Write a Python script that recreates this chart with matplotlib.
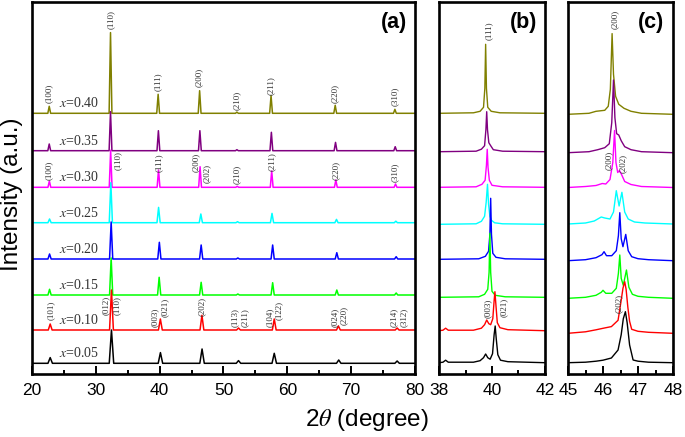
"""
Patrones XRD apilados: (a) barrido completo 20-80, (b) detalle del pico (111), (c) detalle del pico (200)
"""

import matplotlib
matplotlib.use("Agg")
import matplotlib.pyplot as plt
import numpy as np
from matplotlib.ticker import MultipleLocator

plt.rcParams["font.family"] = "Liberation Sans"
plt.rcParams["mathtext.fontset"] = "stix"

# Composiciones (de abajo hacia arriba) y colores
SAMPLES = ["0.05", "0.10", "0.15", "0.20", "0.25", "0.30", "0.35", "0.40"]
COLORS = ["black", "#FF0000", "#00FF00", "#0000FF", "#00FFFF", "#FF00FF", "#800080", "#808000"]

# ---- Panel (a): posicion (2theta) y altura de cada pico ----
pos_a_005 = [22.85, 32.45, 40.12, 46.64, 52.35, 57.95, 68.05, 77.2]
h_a_005 = [5.7, 33.3, 10.7, 14.3, 2.7, 10, 3.3, 2.3]
pos_a_010 = [22.85, 32.45, 40.11, 46.62, 52.35, 57.95, 68.0, 77.2]
h_a_010 = [6, 40, 11, 14.7, 2, 11, 4, 2]
pos_a_015 = [22.75, 32.4, 39.92, 46.5, 52.25, 57.7, 67.75, 77.05]
h_a_015 = [5.7, 37, 17.7, 12.7, 1, 12.3, 5, 2]
pos_a_020 = [22.75, 32.4, 39.95, 46.5, 52.25, 57.7, 67.75, 77.05]
h_a_020 = [5, 37, 16.7, 14, 1, 14, 6.3, 2.3]
pos_a_025 = [22.75, 32.35, 39.83, 46.45, 52.2, 57.6, 67.7, 77.0]
h_a_025 = [3.7, 40, 15.3, 8.7, 1, 9.3, 3.3, 1.5]
pos_a_030 = [22.72, 32.32, 39.82, 46.33, 52.15, 57.55, 67.6, 76.95]
h_a_030 = [6.3, 37, 17.3, 20.6, 1, 16.3, 7.3, 3.3]
pos_a_035 = [22.7, 32.3, 39.8, 46.3, 52.1, 57.5, 67.55, 76.9]
h_a_035 = [6.7, 39, 20, 20, 1, 18.4, 8.3, 4]
pos_a_040 = [22.7, 32.3, 39.76, 46.26, 52.1, 57.45, 67.5, 76.85]
h_a_040 = [7, 80.7, 19, 22.6, 1.2, 17.7, 8, 4]
hw_a = [0.35, 0.3, 0.25, 0.25, 0.25, 0.22, 0.22, 0.22]

# ---- Panel (b): region 38-42 ----
tt_b_005 = [38.0, 38.15, 38.25, 38.35, 39.3, 39.55, 39.68, 39.76, 39.84, 39.93, 40.02, 40.08, 40.12, 40.16, 40.22, 40.32, 40.6, 42.0]
in_b_005 = [0, 0.5, 2.5, 0.5, 0.5, 2, 5, 8.7, 5, 3.5, 9, 28, 36.7, 24, 8, 2.5, 1, 0]
tt_b_010 = [38.0, 38.15, 38.25, 38.35, 39.3, 39.6, 39.72, 39.8, 39.88, 39.95, 40.03, 40.08, 40.11, 40.15, 40.2, 40.3, 40.6, 42.0]
in_b_010 = [0, 0.5, 2.5, 0.5, 0.5, 2.5, 6, 10.7, 7, 6, 12, 30, 39, 25, 8, 3, 1, 0]
tt_b_015 = [38.0, 39.5, 39.72, 39.84, 39.89, 39.92, 39.95, 40.0, 40.12, 40.5, 42.0]
in_b_015 = [0, 0.5, 3, 8, 25, 64, 25, 6, 2, 0.5, 0]
tt_b_020 = [38.0, 39.5, 39.75, 39.87, 39.92, 39.95, 39.98, 40.03, 40.15, 40.5, 42.0]
in_b_020 = [0, 0.5, 3, 8, 25, 61, 25, 6, 2, 0.5, 0]
tt_b_025 = [38.0, 39.4, 39.6, 39.72, 39.78, 39.83, 39.87, 39.92, 39.98, 40.1, 40.4, 42.0]
in_b_025 = [0, 0.5, 3, 8, 22, 40, 20, 8, 4, 1.5, 0.5, 0]
tt_b_030 = [38.0, 39.4, 39.62, 39.74, 39.79, 39.82, 39.85, 39.9, 40.0, 40.4, 42.0]
in_b_030 = [0, 0.5, 3, 7, 22, 38, 20, 7, 2, 0.5, 0]
tt_b_035 = [38.0, 39.4, 39.6, 39.72, 39.77, 39.8, 39.83, 39.88, 39.95, 40.05, 40.4, 42.0]
in_b_035 = [0, 0.5, 2.5, 6, 22, 40, 22, 9, 6, 2, 0.5, 0]
tt_b_040 = [38.0, 39.3, 39.55, 39.68, 39.73, 39.76, 39.79, 39.84, 39.97, 40.3, 42.0]
in_b_040 = [0, 0.5, 2, 6, 25, 69, 25, 6, 2, 0.5, 0]

# ---- Panel (c): region 45-48 ----
tt_c_005 = [45.0, 45.5, 45.8, 46.0, 46.24, 46.43, 46.52, 46.58, 46.64, 46.69, 46.76, 46.86, 47.0, 47.3, 48.0]
in_c_005 = [0, 0.5, 1.5, 2.5, 4.7, 12.7, 28, 44, 51, 40, 17.7, 2.7, 1.5, 0.5, 0]
tt_c_010 = [45.0, 45.5, 45.8, 46.0, 46.24, 46.43, 46.52, 46.57, 46.62, 46.66, 46.71, 46.76, 46.82, 47.0, 47.3, 48.0]
in_c_010 = [0, 1.5, 3.5, 5, 6.7, 13, 33, 45, 51.6, 44, 26, 12, 4, 2, 1, 0]
tt_c_015 = [45.0, 45.5, 45.8, 45.95, 46.0, 46.08, 46.25, 46.38, 46.44, 46.48, 46.52, 46.58, 46.67, 46.74, 46.84, 47.0, 47.3, 48.0]
in_c_015 = [0, 1, 3, 6, 8, 5, 5, 10, 25, 43.3, 20, 13, 28.3, 11, 4, 2, 1, 0]
tt_c_020 = [45.0, 45.5, 45.8, 45.97, 46.03, 46.1, 46.25, 46.38, 46.44, 46.48, 46.52, 46.57, 46.65, 46.72, 46.82, 47.0, 47.3, 48.0]
in_c_020 = [0, 1, 3, 6, 9, 5, 5, 10, 25, 48, 22, 14, 26.3, 10, 4, 2, 1, 0]
tt_c_025 = [45.0, 45.5, 45.75, 45.95, 46.05, 46.2, 46.3, 46.38, 46.46, 46.54, 46.62, 46.72, 46.9, 47.2, 48.0]
in_c_025 = [0, 1, 3, 7, 6, 5, 12, 33.3, 18, 31.7, 12, 5, 2, 1, 0]
tt_c_030 = [45.0, 45.5, 45.8, 45.98, 46.08, 46.2, 46.28, 46.33, 46.37, 46.42, 46.47, 46.53, 46.62, 46.8, 47.1, 48.0]
in_c_030 = [0, 1, 2, 4, 3.5, 8, 25, 57, 25, 15, 17, 13, 6, 3, 1, 0]
tt_c_035 = [45.0, 45.6, 45.85, 46.05, 46.18, 46.25, 46.3, 46.34, 46.39, 46.45, 46.52, 46.62, 46.8, 47.1, 48.0]
in_c_035 = [0, 1, 3, 5, 9, 30, 72.7, 35, 19, 17.7, 12, 6, 3, 1, 0]
tt_c_040 = [45.0, 45.6, 45.8, 46.05, 46.15, 46.21, 46.26, 46.3, 46.36, 46.45, 46.6, 46.8, 47.1, 48.0]
in_c_040 = [0, 1, 3, 4, 8, 25, 80.7, 40, 18, 10, 6, 3, 1, 0]

POS_A = [pos_a_005, pos_a_010, pos_a_015, pos_a_020, pos_a_025, pos_a_030, pos_a_035, pos_a_040]
H_A = [h_a_005, h_a_010, h_a_015, h_a_020, h_a_025, h_a_030, h_a_035, h_a_040]
TT_B = [tt_b_005, tt_b_010, tt_b_015, tt_b_020, tt_b_025, tt_b_030, tt_b_035, tt_b_040]
IN_B = [in_b_005, in_b_010, in_b_015, in_b_020, in_b_025, in_b_030, in_b_035, in_b_040]
TT_C = [tt_c_005, tt_c_010, tt_c_015, tt_c_020, tt_c_025, tt_c_030, tt_c_035, tt_c_040]
IN_C = [in_c_005, in_c_010, in_c_015, in_c_020, in_c_025, in_c_030, in_c_035, in_c_040]

# Desplazamiento vertical de cada patron en cada panel
OFF_A = [10.7, 44, 79, 115, 151.3, 186.7, 223.3, 260.7]
OFF_B = [11.3, 43.3, 76.7, 114.7, 149.7, 186.7, 222.3, 260.7]
OFF_C = [11.3, 40.7, 75.7, 113.3, 150, 186.5, 221.3, 259.7]

# Indices de Miller: (texto, 2theta, altura inferior del texto)
HKL_A = [
    ("(100)", 22.7, 271), ("(110)", 32.3, 345), ("(111)", 39.7, 283), ("(200)", 46.2, 287),
    ("(210)", 52.1, 264), ("(211)", 57.45, 279), ("(220)", 67.5, 271), ("(310)", 76.85, 268),
    ("(100)", 22.7, 194), ("(110)", 33.5, 204), ("(111)", 39.8, 202), ("(200)", 45.6, 202),
    ("(202)", 47.4, 191), ("(210)", 52.1, 190), ("(211)", 57.6, 203), ("(220)", 67.6, 194),
    ("(310)", 76.9, 192),
    ("(101)", 22.9, 54), ("(012)", 31.6, 59), ("(110)", 33.3, 59), ("(003)", 39.3, 47),
    ("(021)", 40.8, 57), ("(202)", 46.6, 58), ("(113)", 51.8, 47), ("(211)", 53.4, 47),
    ("(104)", 57.3, 47), ("(122)", 58.6, 54), ("(024)", 67.5, 47), ("(220)", 68.8, 49),
    ("(214)", 76.7, 47), ("(312)", 78.2, 47),
]
HKL_B = [("(111)", 39.89, 334), ("(003)", 39.83, 56), ("(021)", 40.45, 57)]
HKL_C = [("(200)", 46.34, 345), ("(200)", 46.18, 204), ("(202)", 46.58, 201), ("(202)", 46.44, 61)]


def spikes(pos, h, hw, lo, hi):
    # Construye la traza con un pico triangular por reflexion
    xs, ys = [lo], [0]
    for p, v in zip(pos, h):
        xs += [p - hw, p, p + hw]
        ys += [0, v, 0]
    xs.append(hi)
    ys.append(0)
    return np.array(xs), np.array(ys)


def style_axis(ax, xlim, major, minor):
    ax.set_xlim(*xlim)
    ax.set_ylim(0, 372)
    ax.xaxis.set_major_locator(MultipleLocator(major))
    ax.xaxis.set_minor_locator(MultipleLocator(minor))
    ax.tick_params(axis="x", which="major", direction="in", length=6, width=1.4,
                   labelsize=12.5, pad=6.5, top=False)
    ax.tick_params(axis="x", which="minor", direction="in", length=3, width=1.4, top=False)
    ax.tick_params(axis="y", left=False, right=False, labelleft=False)
    for sp in ax.spines.values():
        sp.set_linewidth(1.9)


def hkl_labels(ax, labels):
    for txt, x, y in labels:
        ax.text(x, y, txt, rotation=90, ha="center", va="bottom", fontsize=6.5,
                family="Liberation Serif", color="#333333")


fig = plt.figure(figsize=(6.85, 4.37), dpi=100)
ax_a = fig.add_axes([32 / 685, 63 / 437, 383 / 685, 372 / 437])
ax_b = fig.add_axes([439 / 685, 63 / 437, 106 / 685, 372 / 437])
ax_c = fig.add_axes([568 / 685, 63 / 437, 105 / 685, 372 / 437])

# Se dibuja de arriba hacia abajo para que los patrones inferiores queden encima
for i in reversed(range(len(SAMPLES))):
    xa, ya = spikes(POS_A[i], H_A[i], hw_a[i], 20, 80)
    ax_a.plot(xa, ya + OFF_A[i], color=COLORS[i], lw=1.1)
    ax_b.plot(TT_B[i], np.array(IN_B[i]) + OFF_B[i], color=COLORS[i], lw=1.0)
    ax_c.plot(TT_C[i], np.array(IN_C[i]) + OFF_C[i], color=COLORS[i], lw=1.0)
    ax_a.text(24.2, OFF_A[i] + 3, f"$x$={SAMPLES[i]}", ha="left", va="bottom",
              fontsize=10, family="Liberation Serif", color="#333333")

style_axis(ax_a, (20, 80), 10, 5)
style_axis(ax_b, (38, 42), 2, 1)
style_axis(ax_c, (45, 48), 1, 0.5)

hkl_labels(ax_a, HKL_A)
hkl_labels(ax_b, HKL_B)
hkl_labels(ax_c, HKL_C)

for ax, tag, xr in [(ax_a, "(a)", 0.979), (ax_b, "(b)", 0.925), (ax_c, "(c)", 0.914)]:
    ax.text(xr, 0.972, tag, transform=ax.transAxes, ha="right", va="top",
            fontsize=15.5, weight="bold")

fig.text(12 / 685, 1 - 194.5 / 437, "Intensity (a.u.)", rotation=90,
         ha="center", va="center", fontsize=17.5)
fig.text(366.5 / 685, 1 - 420 / 437, "2$\\theta$ (degree)", ha="center", va="center",
         fontsize=17.5)

fig.savefig("out.png", dpi=100)
plt.close(fig)
